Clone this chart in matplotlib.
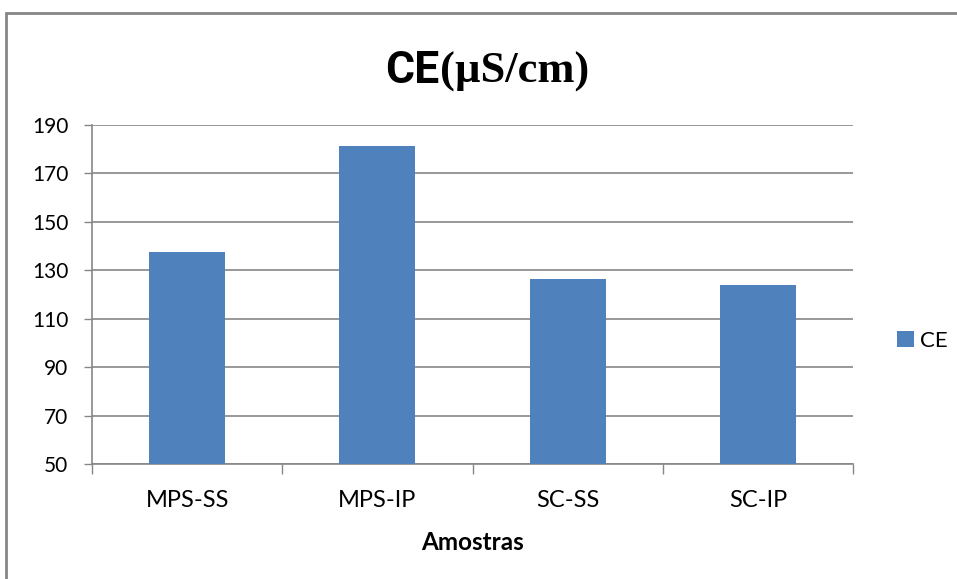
import matplotlib.pyplot as plt
from matplotlib.patches import Rectangle

categories = ['MPS-SS', 'MPS-IP', 'SC-SS', 'SC-IP']
ce_values = [137.5, 181.3, 126.4, 123.9]
y_ticks = [50, 70, 90, 110, 130, 150, 170, 190]

W, H = 957, 579
fig = plt.figure(figsize=(W / 100, H / 100), dpi=100)
ax = fig.add_axes([92 / W, 1 - 464 / H, (853 - 92) / W, (464 - 125) / H])

grey = '#868686'
blue = '#4f81bd'
lab_font = ['Lato', 'DejaVu Sans']

x = range(len(categories))
ax.bar(x, ce_values, width=0.4, color=blue, label='CE', zorder=3)
ax.set_xlim(-0.5, len(categories) - 0.5)
ax.set_ylim(50, 190)
ax.set_yticks(y_ticks)
ax.set_xticks(list(x))
ax.set_xticklabels(categories, fontsize=17, family=lab_font)
ax.set_yticklabels([str(v) for v in y_ticks], fontsize=15, family=lab_font)
ax.tick_params(axis='x', length=0, pad=19)
ax.set_xticks([i + 0.5 for i in range(-1, len(categories))], minor=True)
ax.tick_params(axis='x', which='minor', length=7, color=grey, width=1)
ax.tick_params(axis='y', length=6, color=grey, width=1, pad=11)
ax.yaxis.grid(True, color=grey, linewidth=1.2, zorder=0)
for s in ['top', 'right']:
    ax.spines[s].set_visible(False)
for s in ['left', 'bottom']:
    ax.spines[s].set_color(grey)
    ax.spines[s].set_linewidth(1.2)

ax.set_xlabel('Amostras', fontsize=17.5, fontweight='bold', family=lab_font,
              labelpad=14)

# title: sans "CE" followed by serif "(µS/cm)"
t1 = fig.text(385 / W, 1 - 83 / H, 'CE', fontsize=32, fontweight='bold',
              family=['Roboto', 'DejaVu Sans'], ha='left', va='baseline')
renderer = fig.canvas.get_renderer()
x1 = t1.get_window_extent(renderer).x1
fig.text(x1 / W + 1 / W, 1 - 83 / H, '(µS/cm)', fontsize=32, fontweight='bold',
         family=['Liberation Serif', 'DejaVu Serif'], ha='left', va='baseline')

leg = fig.legend(loc='center left', bbox_to_anchor=(877 / W, 1 - 341 / H),
                 frameon=False, prop={'family': lab_font, 'size': 16},
                 handlelength=0.75, handleheight=0.75, handletextpad=0.3)

fig.patches.append(Rectangle((6 / W, -0.1), 1.2, 1 - 13 / H + 0.1,
                             transform=fig.transFigure, fill=False,
                             edgecolor=grey, linewidth=2))

fig.savefig('out.png', dpi=100)
